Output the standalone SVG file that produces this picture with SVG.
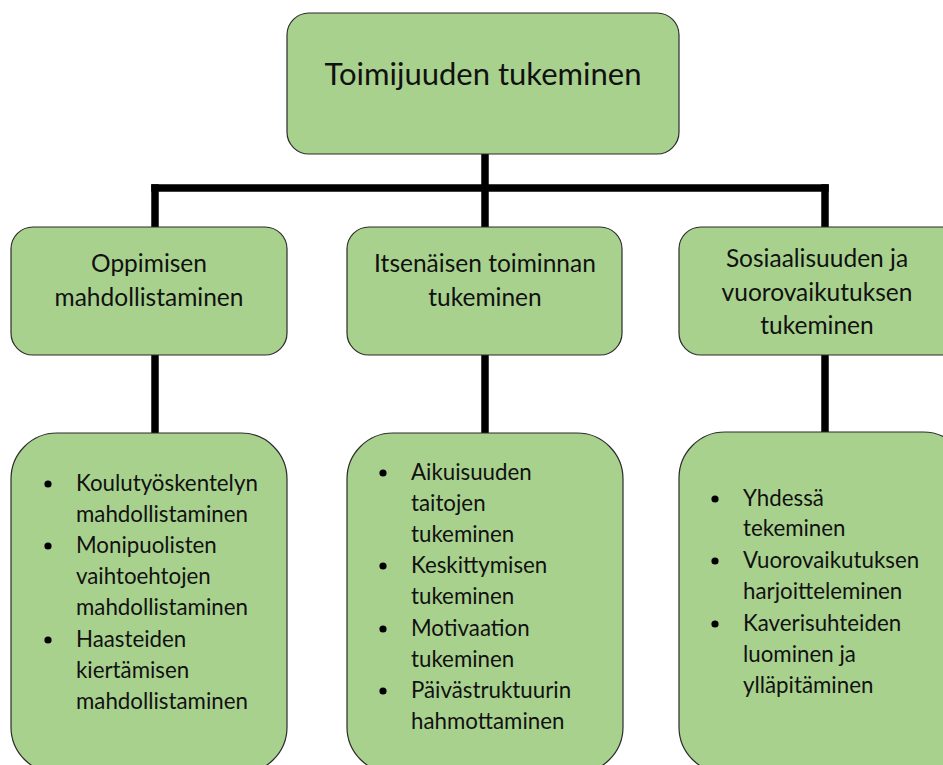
<svg xmlns="http://www.w3.org/2000/svg" width="943" height="765" viewBox="0 0 943 765">
<style>
.box{fill:#A9D18E;stroke:#2b2b2b;stroke-width:1.2}
.t{font-family:Lato,"Open Sans","Liberation Sans",sans-serif;fill:#111}
.h1{font-size:31px;text-anchor:middle}
.h2{font-size:24.5px;text-anchor:middle}
.li{font-size:22.3px}
.conn{stroke:#000;stroke-width:7.5;fill:none;stroke-linecap:square}
</style>
<rect width="943" height="765" fill="#fff"/>
<g id="connectors">
<line class="conn" x1="485" y1="155" x2="485" y2="226"/>
<line class="conn" x1="155" y1="188" x2="825" y2="188"/>
<line class="conn" x1="155" y1="188" x2="155" y2="226"/>
<line class="conn" x1="825" y1="188" x2="825" y2="226"/>
<line class="conn" x1="155" y1="356" x2="155" y2="432"/>
<line class="conn" x1="485" y1="356" x2="485" y2="432"/>
<line class="conn" x1="825" y1="356" x2="825" y2="432"/>
</g>
<g id="root">
<rect class="box" x="287" y="13" width="392" height="141" rx="22"/>
<text class="t h1" x="483" y="85">Toimijuuden tukeminen</text>
</g>
<g id="oppimisen">
<rect class="box" x="11" y="227" width="276" height="128" rx="22"/>
<text class="t h2" x="149" y="272">Oppimisen</text>
<text class="t h2" x="149" y="306">mahdollistaminen</text>
</g>
<g id="itsenaisen">
<rect class="box" x="347" y="227" width="275" height="128" rx="22"/>
<text class="t h2" x="485" y="272">Itsenäisen toiminnan</text>
<text class="t h2" x="485" y="306">tukeminen</text>
</g>
<g id="sosiaalisuuden">
<rect class="box" x="679" y="227" width="290" height="128" rx="22"/>
<text class="t h2" x="817" y="267">Sosiaalisuuden ja</text>
<text class="t h2" x="817" y="301">vuorovaikutuksen</text>
<text class="t h2" x="817" y="334">tukeminen</text>
</g>
<g id="oppimisen-list">
<rect class="box" x="11" y="433" width="276" height="340" rx="46"/>
<circle cx="48" cy="484" r="3.6"/>
<circle cx="48" cy="546" r="3.6"/>
<circle cx="48" cy="640" r="3.6"/>
<text class="t li" x="76" y="491">Koulutyöskentelyn</text>
<text class="t li" x="76" y="522">mahdollistaminen</text>
<text class="t li" x="76" y="553">Monipuolisten</text>
<text class="t li" x="76" y="584">vaihtoehtojen</text>
<text class="t li" x="76" y="615">mahdollistaminen</text>
<text class="t li" x="76" y="647">Haasteiden</text>
<text class="t li" x="76" y="678">kiertämisen</text>
<text class="t li" x="76" y="709">mahdollistaminen</text>
</g>
<g id="itsenaisen-list">
<rect class="box" x="347" y="433" width="276" height="340" rx="46"/>
<circle cx="383" cy="473" r="3.6"/>
<circle cx="383" cy="566" r="3.6"/>
<circle cx="383" cy="629" r="3.6"/>
<circle cx="383" cy="691" r="3.6"/>
<text class="t li" x="411" y="480">Aikuisuuden</text>
<text class="t li" x="411" y="511">taitojen</text>
<text class="t li" x="411" y="542">tukeminen</text>
<text class="t li" x="411" y="573">Keskittymisen</text>
<text class="t li" x="411" y="604">tukeminen</text>
<text class="t li" x="411" y="636">Motivaation</text>
<text class="t li" x="411" y="667">tukeminen</text>
<text class="t li" x="411" y="698">Päivästruktuurin</text>
<text class="t li" x="411" y="729">hahmottaminen</text>
</g>
<g id="sosiaalisuuden-list">
<rect class="box" x="679" y="432" width="290" height="341" rx="46"/>
<circle cx="715" cy="499" r="3.6"/>
<circle cx="715" cy="561" r="3.6"/>
<circle cx="715" cy="624" r="3.6"/>
<text class="t li" x="743" y="506">Yhdessä</text>
<text class="t li" x="743" y="536">tekeminen</text>
<text class="t li" x="743" y="568">Vuorovaikutuksen</text>
<text class="t li" x="743" y="599">harjoitteleminen</text>
<text class="t li" x="743" y="631">Kaverisuhteiden</text>
<text class="t li" x="743" y="662">luominen ja</text>
<text class="t li" x="743" y="693">ylläpitäminen</text>
</g>
</svg>
